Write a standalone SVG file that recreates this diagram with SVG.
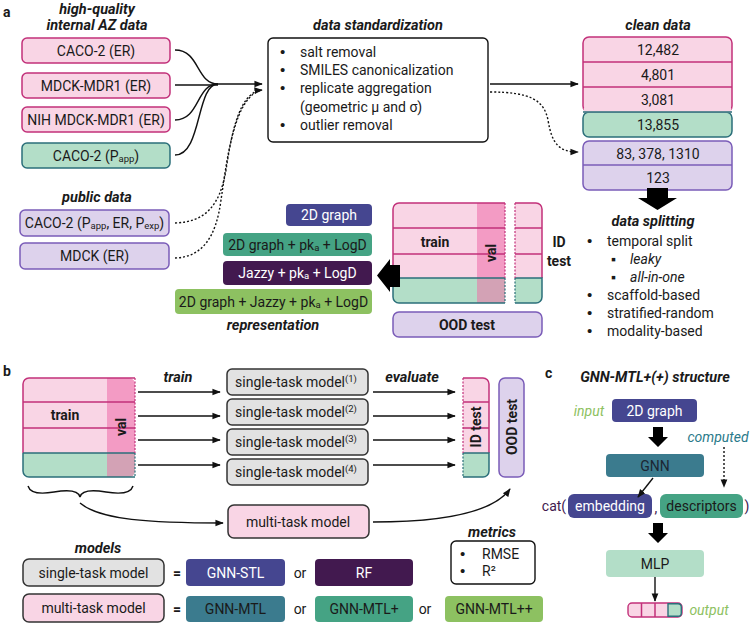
<svg xmlns="http://www.w3.org/2000/svg" width="750" height="628" viewBox="0 0 750 628">
<defs>
<style>
text{font-family:Roboto,"Noto Sans","Liberation Sans",sans-serif;font-size:14px;fill:#1a1a1a}
.c{text-anchor:middle}
.b{font-weight:bold}
.h{font-weight:bold;font-style:italic;font-size:14.5px}
.i{font-style:italic}
.w{fill:#fff}
.bl{font-family:"Liberation Sans",Arial,sans-serif;font-size:15px}
.pk{fill:#f9d5e5;stroke:#c2317a;stroke-width:1.5}
.gr{fill:#b3dec8;stroke:#2b6f7a;stroke-width:1.5}
.lv{fill:#ddd2ec;stroke:#7a5cb8;stroke-width:1.5}
.gy{fill:#e2e2e2;stroke:#333;stroke-width:1.5}
.ind{fill:#454690}
.tg{fill:#45a384}
.dp{fill:#42194f}
.lg{fill:#8dc161}
.tb{fill:#3b7b8e}
.ln{fill:none;stroke:#111;stroke-width:1.4}
.dt{fill:none;stroke:#111;stroke-width:1.4;stroke-dasharray:2 2}
.mg{fill:none;stroke:#c2317a;stroke-width:1.5}
.tl{fill:none;stroke:#2b6f7a;stroke-width:1.5}
.dm{fill:none;stroke:#c2317a;stroke-width:1.2;stroke-dasharray:2 1.5}
.dtl{fill:none;stroke:#2b6f7a;stroke-width:1.2;stroke-dasharray:2 1.5}
.sub{font-size:9.5px}
</style>
<marker id="ah" viewBox="0 0 10 10" refX="9" refY="5" markerWidth="6" markerHeight="6" orient="auto-start-reverse">
<path d="M0,1 L10,5 L0,9 z" fill="#111"/>
</marker>
<clipPath id="ca"><rect x="393" y="203" width="149" height="100" rx="6"/></clipPath>
<clipPath id="cb1"><rect x="23" y="378" width="112" height="99" rx="6"/></clipPath>
<clipPath id="cb2"><rect x="450" y="378" width="39" height="99" rx="6"/></clipPath>
</defs>
<rect width="750" height="628" fill="#fff"/>

<!-- panel labels and titles -->
<text x="3" y="17" class="b" font-size="16">a</text>
<text x="3" y="376" class="b" font-size="16">b</text>
<text x="545" y="378" class="b" font-size="16">c</text>
<text x="97" y="14" class="c h">high-quality</text>
<text x="97" y="30" class="c h">internal AZ data</text>
<text x="97" y="202" class="c h">public data</text>
<text x="378" y="30" class="c h">data standardization</text>
<text x="658" y="30" class="c h">clean data</text>
<text x="653" y="226" class="c h">data splitting</text>
<text x="273" y="330" class="c h">representation</text>

<!-- source nodes -->
<g id="n-caco2-er"><rect x="22" y="38" width="148" height="25" rx="5" class="pk"/><text x="96" y="55.5" class="c">CACO-2 (ER)</text></g>
<g id="n-mdck-mdr1"><rect x="22" y="73" width="148" height="25" rx="5" class="pk"/><text x="96" y="90.5" class="c">MDCK-MDR1 (ER)</text></g>
<g id="n-nih"><rect x="22" y="107" width="148" height="25" rx="5" class="pk"/><text x="96" y="124.5" class="c">NIH MDCK-MDR1 (ER)</text></g>
<g id="n-caco2-papp"><rect x="22" y="143" width="148" height="25" rx="5" class="gr"/><text x="96" y="160.5" class="c">CACO-2 (P<tspan class="sub" dy="1">app</tspan><tspan dy="-1">)</tspan></text></g>
<g id="n-pub-caco2"><rect x="20" y="210" width="149" height="26" rx="5" class="lv"/><text x="94.5" y="228" class="c">CACO-2 (P<tspan class="sub" dy="1">app</tspan><tspan dy="-1">, ER, P</tspan><tspan class="sub" dy="1">exp</tspan><tspan dy="-1">)</tspan></text></g>
<g id="n-pub-mdck"><rect x="20" y="243" width="149" height="26" rx="5" class="lv"/><text x="94.5" y="261" class="c">MDCK (ER)</text></g>

<!-- standardization -->
<g id="n-std">
<rect x="268" y="38" width="220" height="104" rx="5" fill="#fff" stroke="#111" stroke-width="1.4"/>
<text x="280" y="57" class="bl">•</text><text x="300" y="57">salt removal</text>
<text x="280" y="75" class="bl">•</text><text x="300" y="75">SMILES canonicalization</text>
<text x="280" y="93" class="bl">•</text><text x="300" y="93">replicate aggregation</text>
<text x="300" y="112">(geometric μ and σ)</text>
<text x="280" y="130" class="bl">•</text><text x="300" y="130">outlier removal</text>
</g>

<!-- clean data -->
<g id="n-clean-internal">
<rect x="583" y="37" width="149" height="75" rx="6" class="pk"/>
<rect x="583" y="112" width="149" height="25" rx="6" class="gr"/>
<path d="M583.75,108 H731.25 V112.5 H583.75 z" fill="#f9d5e5"/>
<path d="M583,112 H732" class="tl"/>
<path d="M583,62 H732 M583,87 H732" class="mg"/>
<text x="658" y="55" class="c">12,482</text>
<text x="658" y="80" class="c">4,801</text>
<text x="658" y="105" class="c">3,081</text>
<text x="658" y="130" class="c">13,855</text>
</g>
<g id="n-clean-public">
<rect x="583" y="141" width="149" height="49" rx="6" class="lv"/>
<path d="M583,165 H732" stroke="#7a5cb8" stroke-width="1.5"/>
<text x="658" y="158.5" class="c">83, 378, 1310</text>
<text x="658" y="182.5" class="c">123</text>
</g>

<!-- data splitting list -->
<g id="n-splitting">
<text x="587" y="246" class="bl">•</text><text x="607" y="246">temporal split</text>
<text x="611" y="264" font-size="11">▪</text><text x="630" y="264" class="i">leaky</text>
<text x="611" y="282" font-size="11">▪</text><text x="630" y="282" class="i">all-in-one</text>
<text x="587" y="300" class="bl">•</text><text x="607" y="300">scaffold-based</text>
<text x="587" y="318" class="bl">•</text><text x="607" y="318">stratified-random</text>
<text x="587" y="336" class="bl">•</text><text x="607" y="336">modality-based</text>
</g>

<!-- split diagram a -->
<g id="n-split-a">
<g clip-path="url(#ca)">
<rect x="393" y="203" width="112" height="75" fill="#f9d5e5"/>
<rect x="477" y="203" width="28" height="75" fill="#f39bc4"/>
<rect x="393" y="278" width="112" height="25" fill="#b3dec8"/>
<rect x="477" y="278" width="28" height="25" fill="#d3a2b5"/>
<rect x="515" y="203" width="27" height="75" fill="#f9d5e5"/>
<rect x="515" y="278" width="27" height="25" fill="#b3dec8"/>
</g>
<path d="M505,203 H399 A6,6 0 0 0 393,209 V278 M393,228 H505 M393,254 H505" class="mg"/>
<path d="M393,278 H505 M393,278 V297 A6,6 0 0 0 399,303 H505" class="tl"/>
<path d="M505,203 V278" class="dm"/><path d="M505,278 V303" class="dtl"/>
<path d="M515,203 H536 A6,6 0 0 1 542,209 V278 M515,228 H542 M515,254 H542" class="mg"/>
<path d="M515,278 H542 V297 A6,6 0 0 1 536,303 H515" class="tl"/>
<path d="M515,203 V278" class="dm"/><path d="M515,278 V303" class="dtl"/>
<text x="435" y="247" class="c b">train</text>
<text transform="translate(496,253) rotate(-90)" class="c b">val</text>
<text x="559" y="247" class="c b">ID</text>
<text x="559" y="266" class="c b">test</text>
</g>
<g id="n-ood-a"><rect x="393" y="312" width="149" height="25" rx="6" class="lv"/><text x="467" y="329.5" class="c b">OOD test</text></g>

<!-- representations -->
<g id="n-rep1"><rect x="286" y="204" width="86" height="22" rx="4" class="ind"/><text x="329" y="220" class="c w">2D graph</text></g>
<g id="n-rep2"><rect x="223" y="233" width="149" height="23" rx="4" class="tg"/><text x="297.5" y="249.5" class="c">2D graph + pk<tspan class="sub" dy="1">a</tspan><tspan dy="-1"> + LogD</tspan></text></g>
<g id="n-rep3"><rect x="223" y="261" width="149" height="24" rx="4" class="dp"/><text x="297.5" y="278" class="c w">Jazzy + pk<tspan class="sub" dy="1">a</tspan><tspan dy="-1"> + LogD</tspan></text></g>
<g id="n-rep4"><rect x="175" y="289" width="197" height="25" rx="4" class="lg"/><text x="273.5" y="306.5" class="c">2D graph + Jazzy + pk<tspan class="sub" dy="1">a</tspan><tspan dy="-1"> + LogD</tspan></text></g>

<!-- panel b -->
<g id="n-split-b">
<g clip-path="url(#cb1)">
<rect x="23" y="378" width="112" height="75" fill="#f9d5e5"/>
<rect x="107" y="378" width="28" height="75" fill="#f39bc4"/>
<rect x="23" y="453" width="112" height="24" fill="#b3dec8"/>
<rect x="107" y="453" width="28" height="24" fill="#d3a2b5"/>
</g>
<path d="M135,378 H29 A6,6 0 0 0 23,384 V453 M23,402 H135 M23,428 H135" class="mg"/>
<path d="M23,453 H135 M23,453 V471 A6,6 0 0 0 29,477 H135" class="tl"/>
<path d="M135,378 V453" class="dm"/><path d="M135,453 V477" class="dtl"/>
<text x="65" y="420" class="c b">train</text>
<text transform="translate(126,427) rotate(-90)" class="c b">val</text>
</g>
<g id="n-idtest-b">
<g clip-path="url(#cb2)">
<rect x="463" y="378" width="26" height="75" fill="#f9d5e5"/>
<rect x="463" y="453" width="26" height="24" fill="#b3dec8"/>
</g>
<path d="M463,378 H483 A6,6 0 0 1 489,384 V453 M463,402 H489 M463,428 H489" class="mg"/>
<path d="M463,453 H489 V471 A6,6 0 0 1 483,477 H463" class="tl"/>
<path d="M463,378 V453" class="dm"/><path d="M463,453 V477" class="dtl"/>
<text transform="translate(481,427) rotate(-90)" class="c b">ID test</text>
</g>
<g id="n-ood-b"><rect x="499" y="378" width="25" height="99" rx="6" class="lv"/><text transform="translate(516.5,427) rotate(-90)" class="c b">OOD test</text></g>

<text x="178" y="382" class="c h">train</text>
<text x="412" y="382" class="c h">evaluate</text>
<g id="n-stm1"><rect x="227" y="369" width="141" height="26" rx="5" class="gy"/><text x="296" y="387" class="c">single-task model<tspan font-size="9.5" dy="-5">(1)</tspan></text></g>
<g id="n-stm2"><rect x="227" y="399" width="141" height="26" rx="5" class="gy"/><text x="296" y="417" class="c">single-task model<tspan font-size="9.5" dy="-5">(2)</tspan></text></g>
<g id="n-stm3"><rect x="227" y="429" width="141" height="26" rx="5" class="gy"/><text x="296" y="447" class="c">single-task model<tspan font-size="9.5" dy="-5">(3)</tspan></text></g>
<g id="n-stm4"><rect x="227" y="459" width="141" height="26" rx="5" class="gy"/><text x="296" y="477" class="c">single-task model<tspan font-size="9.5" dy="-5">(4)</tspan></text></g>
<g id="n-mtm"><rect x="228" y="505" width="141" height="33" rx="6" fill="#f9d5e5" stroke="#333" stroke-width="1.5"/><text x="298" y="526.5" class="c">multi-task model</text></g>

<!-- models legend -->
<text x="98" y="553" class="c h">models</text>
<g id="n-leg-stm"><rect x="23" y="559" width="141" height="27" rx="6" class="gy"/><text x="93.5" y="577.5" class="c">single-task model</text></g>
<text x="177" y="578" class="c b">=</text>
<g id="n-gnn-stl"><rect x="186" y="559" width="99" height="27" rx="4" class="ind"/><text x="235.5" y="577.5" class="c w">GNN-STL</text></g>
<text x="300" y="578" class="c">or</text>
<g id="n-rf"><rect x="315" y="559" width="98" height="27" rx="4" class="dp"/><text x="364" y="577.5" class="c w">RF</text></g>
<g id="n-leg-mtm"><rect x="23" y="594" width="141" height="28" rx="6" fill="#f9d5e5" stroke="#333" stroke-width="1.5"/><text x="93.5" y="613" class="c">multi-task model</text></g>
<text x="177" y="614" class="c b">=</text>
<g id="n-gnn-mtl"><rect x="186" y="596" width="99" height="26" rx="4" class="tb"/><text x="235.5" y="614" class="c">GNN-MTL</text></g>
<text x="300" y="614" class="c">or</text>
<g id="n-gnn-mtlp"><rect x="315" y="596" width="98" height="26" rx="4" class="tg"/><text x="364" y="614" class="c">GNN-MTL+</text></g>
<text x="425" y="614" class="c">or</text>
<g id="n-gnn-mtlpp"><rect x="445" y="596" width="98" height="26" rx="4" class="lg"/><text x="494" y="614" class="c">GNN-MTL++</text></g>
<text x="492" y="537" class="c h">metrics</text>
<g id="n-metrics"><rect x="451" y="541" width="84" height="43" rx="5" fill="#fff" stroke="#111" stroke-width="1.4"/>
<text x="460" y="559" class="bl">•</text><text x="482" y="559">RMSE</text>
<text x="460" y="576" class="bl">•</text><text x="482" y="576">R²</text></g>

<!-- panel c -->
<text x="655" y="382" class="c h">GNN-MTL+(+) structure</text>
<text x="589" y="416" class="c i" style="fill:#8dc161">input</text>
<g id="n-c-2d"><rect x="612" y="399" width="85" height="23" rx="4" class="ind"/><text x="654.5" y="415.5" class="c w">2D graph</text></g>
<text x="718" y="442" class="c i" style="fill:#2b7a8a">computed</text>
<g id="n-c-gnn"><rect x="606" y="454" width="98" height="23" rx="4" class="tb"/><text x="655" y="470.5" class="c" style="fill:#1c2633">GNN</text></g>
<text x="554" y="511" class="c" style="fill:#42194f">cat(</text>
<g id="n-c-emb"><rect x="568" y="494" width="84" height="24" rx="6" class="ind"/><text x="610" y="511" class="c w">embedding</text></g>
<text x="656" y="513" class="c" style="fill:#42194f">,</text>
<g id="n-c-desc"><rect x="660" y="494" width="83" height="24" rx="6" class="tg"/><text x="701.5" y="511" class="c">descriptors</text></g>
<text x="747" y="511" class="c" style="fill:#42194f">)</text>
<g id="n-c-mlp"><rect x="606" y="550" width="98" height="27" rx="4" fill="#b3dec8"/><text x="655" y="568.5" class="c">MLP</text></g>
<g id="n-c-out">
<rect x="628" y="603" width="54" height="14" rx="4" fill="#f9d5e5" stroke="#c2317a" stroke-width="1.4"/>
<path d="M668,603.7 H678 A3.3,3.3 0 0 1 681.3,607 V613 A3.3,3.3 0 0 1 678,616.3 H668 z" fill="#b3dec8" stroke="#2b6f7a" stroke-width="1.4"/>
<path d="M641.5,603 V617 M655,603 V617" class="mg" stroke-width="1.4"/>
<text x="709" y="615" class="c i" style="fill:#8dc161">output</text>
</g>

<!-- connectors -->
<g id="connectors">
<path d="M175,50 C200,50 196,84 218,84" class="ln"/>
<path d="M175,85 H218" class="ln"/>
<path d="M175,120 C200,120 196,84 218,84" class="ln"/>
<path d="M175,155 C202,155 196,84 218,84" class="ln"/>
<path d="M218,84 H262" class="ln" marker-end="url(#ah)"/>
<path d="M175,223 C206,222 220,205 226,170 C232,130 240,92 262,90" class="dt" marker-end="url(#ah)"/>
<path d="M175,258 C202,257 216,238 221,200 C227,160 234,96 262,90" class="dt"/>
<path d="M490,84 H578" class="ln" marker-end="url(#ah)"/>
<path d="M490,92 C530,92 544,100 548,120 C552,145 560,152 578,152" class="dt" marker-end="url(#ah)"/>
<polygon points="647,188 668,188 668,198 677,198 657.5,210 638,198 647,198" fill="#000"/>
<polygon points="400,265 390,265 390,259 377,275.5 390,292 390,287 400,287" fill="#000"/>
<path d="M138,392 H220" class="ln" marker-end="url(#ah)"/>
<path d="M138,416 H220" class="ln" marker-end="url(#ah)"/>
<path d="M138,440 H220" class="ln" marker-end="url(#ah)"/>
<path d="M138,465 H220" class="ln" marker-end="url(#ah)"/>
<path d="M373,392 H455" class="ln" marker-end="url(#ah)"/>
<path d="M373,416 H455" class="ln" marker-end="url(#ah)"/>
<path d="M373,440 H455" class="ln" marker-end="url(#ah)"/>
<path d="M373,465 H455" class="ln" marker-end="url(#ah)"/>
<path d="M28,486 Q31,496 54,492 Q78,488 80,497 Q82,488 106,492 Q130,496 133,486" class="ln"/>
<path d="M80,503 C100,520 150,523 223,523" class="ln" marker-end="url(#ah)"/>
<path d="M373,522 C440,522 492,514 510,489" class="ln" marker-end="url(#ah)"/>
<polygon points="653,427 663,427 663,437 668,437 658,447 648,437 653,437" fill="#000"/>
<path d="M724,447 V487" class="dt" marker-end="url(#ah)"/>
<path d="M653,478 L638,497" class="ln" stroke-width="1.1" marker-end="url(#ah)"/>
<polygon points="653,523 663,523 663,533 668,533 658,543 648,533 653,533" fill="#000"/>
<path d="M655,577 V601" class="ln" stroke-width="1.1" marker-end="url(#ah)"/>
</g>
</svg>
